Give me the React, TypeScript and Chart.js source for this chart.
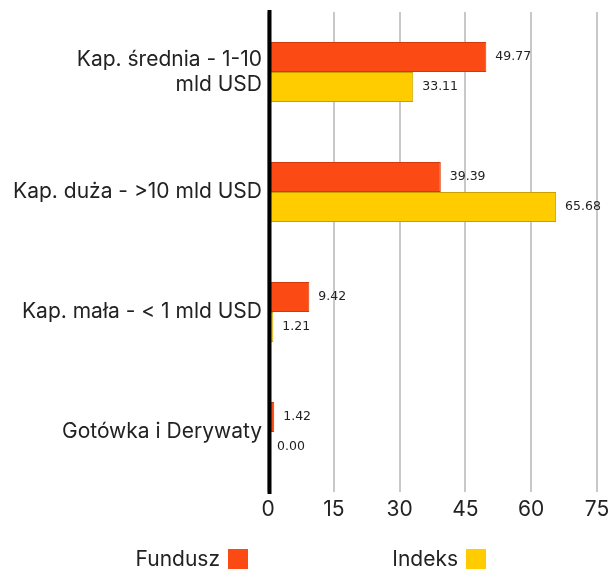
import React, { useEffect, useRef } from "react";
import { Chart, registerables } from "chart.js";

Chart.register(...registerables);

const categories: (string | string[])[] = [
  ["Kap. średnia - 1-10", "mld USD"],
  "Kap. duża - >10 mld USD",
  "Kap. mała - < 1 mld USD",
  "Gotówka i Derywaty",
];
const funduszValues = [49.77, 39.39, 9.42, 1.42];
const indeksValues = [33.11, 65.68, 1.21, 0.0];
const seriesNames = ["Fundusz", "Indeks"];
const xTicks = [0, 15, 30, 45, 60, 75];

const FONT = "Inter, 'Noto Sans', sans-serif";

const valueLabels = {
  id: "valueLabels",
  afterDatasetsDraw(chart: any) {
    const ctx = chart.ctx;
    ctx.save();
    ctx.font = `12.5px 'DejaVu Sans', sans-serif`;
    ctx.fillStyle = "#222";
    ctx.textBaseline = "middle";
    ctx.textAlign = "left";
    chart.data.datasets.forEach((ds: any, di: number) => {
      const meta = chart.getDatasetMeta(di);
      meta.data.forEach((el: any, i: number) => {
        const v = ds.data[i];
        ctx.fillText(v.toFixed(2), el.x + 9, el.y);
      });
    });
    ctx.restore();
  },
};

const zeroAxis = {
  id: "zeroAxis",
  afterDatasetsDraw(chart: any) {
    const ctx = chart.ctx;
    const a = chart.chartArea;
    ctx.save();
    ctx.strokeStyle = "#000";
    ctx.lineWidth = 4;
    ctx.beginPath();
    ctx.moveTo(a.left + 1.5, a.top - 2);
    ctx.lineTo(a.left + 1.5, a.bottom + 2);
    ctx.stroke();
    ctx.restore();
  },
};

const bottomLegend = {
  id: "bottomLegend",
  afterDraw(chart: any) {
    const ctx = chart.ctx;
    ctx.save();
    ctx.font = `21px ${FONT}`;
    ctx.textBaseline = "middle";
    ctx.textAlign = "right";
    const positions = [220, 458];
    chart.data.datasets.forEach((ds: any, di: number) => {
      const tx = positions[di];
      const y = 559;
      ctx.fillStyle = "#222";
      ctx.fillText(ds.label, tx, y + 1);
      ctx.fillStyle = ds.backgroundColor;
      ctx.fillRect(tx + 8, y - 10, 20, 20);
    });
    ctx.restore();
  },
};

export default function App() {
  const ref = useRef<HTMLCanvasElement>(null);
  useEffect(() => {
    if (!ref.current) return;
    const chart = new Chart(ref.current, {
      type: "bar",
      data: {
        labels: categories,
        datasets: [
          {
            label: seriesNames[0],
            data: funduszValues,
            backgroundColor: "#FC4A15",
            borderColor: "#D23A0C",
            borderWidth: 1,
            barPercentage: 1,
            categoryPercentage: 0.5,
          },
          {
            label: seriesNames[1],
            data: indeksValues,
            backgroundColor: "#FFCC00",
            borderColor: "#C9A000",
            borderWidth: 1,
            barPercentage: 1,
            categoryPercentage: 0.5,
          },
        ],
      },
      options: {
        indexAxis: "y",
        animation: false,
        responsive: false,
        layout: { padding: { top: 12, right: 19, bottom: 50, left: 0 } },
        plugins: { legend: { display: false }, tooltip: { enabled: false } },
        scales: {
          x: {
            min: 0,
            max: 75,
            afterBuildTicks: (scale: any) => {
              scale.ticks = xTicks.map((v) => ({ value: v }));
            },
            afterFit: (scale: any) => {
              scale.height = 32;
              scale.paddingLeft = 0;
              scale.paddingRight = 0;
            },
            grid: { color: "#c8c8c8", lineWidth: 2, drawTicks: false },
            border: { display: false },
            ticks: { color: "#222", font: { size: 21, family: FONT }, padding: 5 },
          },
          y: {
            afterFit: (scale: any) => {
              scale.width = 268;
              scale.paddingTop = 0;
              scale.paddingBottom = 0;
            },
            grid: { display: false, drawTicks: false },
            border: { display: false },
            ticks: { color: "#222", font: { size: 21, family: FONT }, padding: 6, crossAlign: "near" },
          },
        },
      },
      plugins: [valueLabels, zeroAxis, bottomLegend],
    });
    return () => chart.destroy();
  }, []);
  return (
    <div style={{ position: "fixed", left: 0, top: 0, width: 616, height: 574, background: "#fff" }}>
      <canvas ref={ref} width={616} height={574} />
    </div>
  );
}
